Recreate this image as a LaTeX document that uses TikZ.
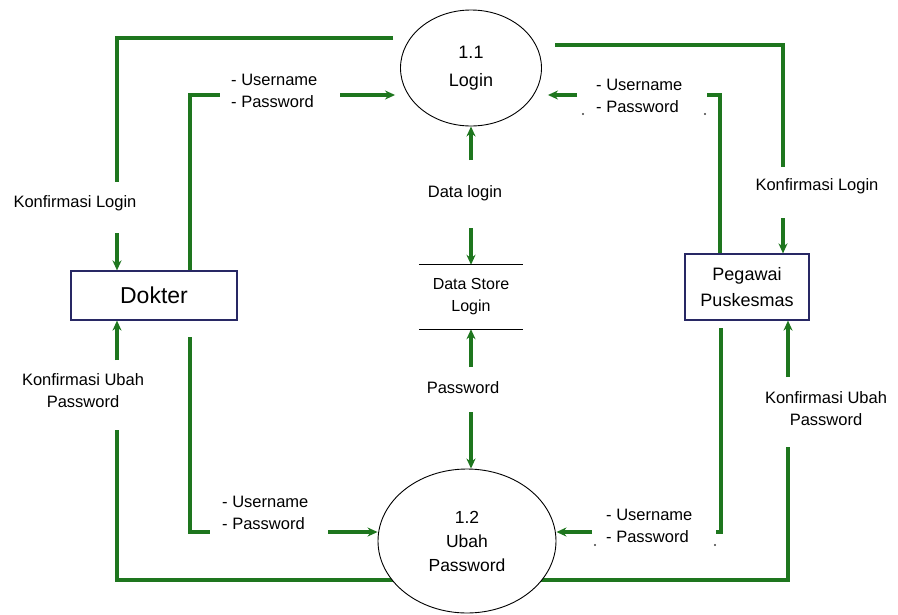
\documentclass[tikz,border=0pt]{standalone}
\usepackage{fontspec}
\setmainfont{Liberation Sans}
\usetikzlibrary{shapes.geometric,arrows.meta,backgrounds}
\definecolor{flowgreen}{RGB}{30,118,30}
\definecolor{boxblue}{RGB}{40,40,100}
\pgfdeclarelayer{paper}
\pgfsetlayers{paper,background,main}
\begin{document}
\begin{tikzpicture}[x=1pt,y=-1pt,
  flow/.style={draw=flowgreen, line width=3.3pt},
  flowarr/.style={flow, -{Stealth[length=10pt,width=9pt]}},
  process/.style={ellipse, draw=black, line width=0.9pt, fill=white, inner sep=0pt, align=center},
  entity/.style={rectangle, draw=boxblue, line width=1.2pt, fill=white, align=center},
  lbl/.style={font=\fontsize{16.5}{22}\selectfont, inner sep=0pt},
  lbll/.style={lbl, align=left, anchor=west},
  lblc/.style={lbl, align=center},
  dotmark/.style={circle, fill=black!75, inner sep=0pt, minimum size=2.4pt}]
\useasboundingbox (0,0) rectangle (898,614);
\begin{pgfonlayer}{paper}
\fill[white] (0,0) rectangle (898,614);
\end{pgfonlayer}

% processes
\node[process, minimum width=141, minimum height=116, font=\fontsize{18}{28}\selectfont] (p11) at (471,68) {1.1\\Login};
\node[process, minimum width=178, minimum height=144, font=\fontsize{17.5}{24}\selectfont] (p12) at (467,541) {1.2\\Ubah\\Password};

% external entities
\node[entity, minimum width=166, minimum height=49, font=\fontsize{23}{28}\selectfont] (dok) at (154,295.5) {Dokter};
\node[entity, minimum width=124, minimum height=66, font=\fontsize{18}{26}\selectfont] (peg) at (747,287) {Pegawai\\Puskesmas};

% data store
\node[minimum width=104, minimum height=64, align=center, font=\fontsize{16}{22}\selectfont, inner sep=0pt] (ds) at (471,297) {Data Store\\Login};
\draw[line width=1.3pt] (ds.north west) -- (ds.north east);
\draw[line width=1.3pt] (ds.south west) -- (ds.south east);

% flow labels
\node[lblc] (klA) at (75,203) {Konfirmasi Login};
\node[lbll] (upA) at (231,91) {- Username\\- Password};
\node[lblc] (klB) at (817,186) {Konfirmasi Login};
\node[lbll] (upB) at (596,96) {- Username\\- Password};
\node[lblc] (dl) at (465,193) {Data login};
\node[lblc] (pw) at (463,388) {Password};
\node[lbll] (upC) at (222,513) {- Username\\- Password};
\node[lblc] (kuA) at (83,391) {Konfirmasi Ubah\\Password};
\node[lbll] (upD) at (606,526) {- Username\\- Password};
\node[lblc] (kuB) at (826,409) {Konfirmasi Ubah\\Password};
\node[dotmark] (d1) at (583,114) {};
\node[dotmark] (d2) at (705,114) {};
\node[dotmark] (d3) at (595,545) {};
\node[dotmark] (d4) at (715,545) {};

\begin{scope}[on background layer]
% Login -> Dokter : Konfirmasi Login
\coordinate (a1) at (393,38);
\coordinate (a2) at (117,182);
\coordinate (a3) at (117,233);
\draw[flow] (a1) -| (a2);
\draw[flowarr] (a3) -- (a3 |- dok.north);

% Dokter -> Login : Username / Password
\coordinate (b0) at (190,95);
\coordinate (b1) at (220,95);
\coordinate (b2) at (340,95);
\draw[flow] (b0 |- dok.north) -- (b0) -- (b1);
\draw[flowarr, shorten >=5pt] (b2) -- (b2 -| p11.west);

% Login -> Pegawai : Konfirmasi Login
\coordinate (c0) at (555,45);
\coordinate (c1) at (783,167);
\coordinate (c2) at (783,218);
\draw[flow] (c0) -| (c1);
\draw[flowarr] (c2) -- (c2 |- peg.north);

% Pegawai -> Login : Username / Password
\coordinate (e0) at (720,95);
\coordinate (e1) at (707,95);
\coordinate (e2) at (577,95);
\draw[flow] (e0 |- peg.north) -- (e0) -- (e1);
\draw[flowarr, shorten >=6pt] (e2) -- (e2 -| p11.east);

% Data login
\coordinate (f0) at (471,160);
\coordinate (f1) at (471,228);
\draw[flowarr] (f0) -- (p11.south);
\draw[flowarr] (f1) -- (ds.north);

% Password
\coordinate (g0) at (471,367);
\coordinate (g1) at (471,412);
\draw[flowarr] (g0) -- (ds.south);
\draw[flowarr] (g1) -- (g1 |- p12.north);

% Dokter -> Ubah Password
\coordinate (h0) at (190,337);
\coordinate (h1) at (210,532);
\coordinate (h2) at (328,532);
\draw[flow] (h0) |- (h1);
\draw[flowarr] (h2) -- (h2 -| p12.west);

% Ubah Password -> Dokter : Konfirmasi Ubah Password
\coordinate (i0) at (400,580);
\coordinate (i1) at (117,430);
\coordinate (i2) at (117,360);
\draw[flow] (i0) -| (i1);
\draw[flowarr] (i2) -- (i2 |- dok.south);

% Pegawai -> Ubah Password
\coordinate (j0) at (721,328);
\coordinate (j1) at (716,532);
\coordinate (j2) at (592,532);
\draw[flow] (j0) |- (j1);
\draw[flowarr] (j2) -- (j2 -| p12.east);

% Ubah Password -> Pegawai : Konfirmasi Ubah Password
\coordinate (k0) at (540,580);
\coordinate (k1) at (788,447);
\coordinate (k2) at (788,377);
\draw[flow] (k0) -| (k1);
\draw[flowarr] (k2) -- (k2 |- peg.south);
\end{scope}
\end{tikzpicture}
\end{document}
